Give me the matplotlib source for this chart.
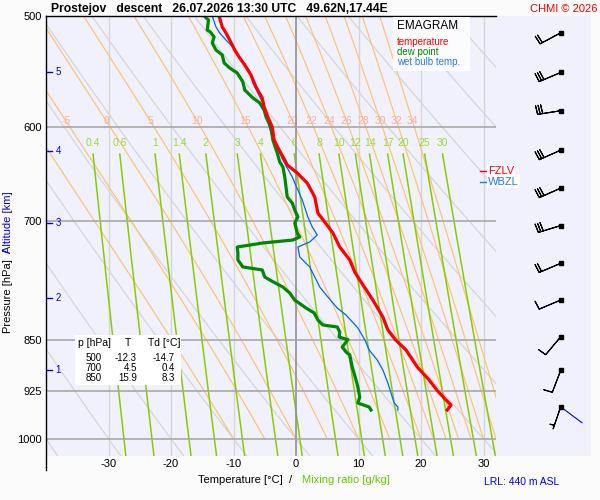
import numpy as np
import matplotlib
matplotlib.use('Agg')
import matplotlib.pyplot as plt
import matplotlib.transforms as mtransforms
from matplotlib.patches import Rectangle

plt.rcParams['font.family'] = ['Liberation Sans', 'DejaVu Sans']

# ---------------- data ----------------
temp_p = [500, 509.1, 514.1, 520.1, 528.7, 534.8, 541.8, 550.8, 561.7, 571.9, 580.4, 590.0,
          600, 612.7, 622.8, 633.1, 638.3, 646.8, 657.5, 672.7, 690.6, 700, 713.6, 730.2,
          745.9, 760.7, 770.8, 796.5, 819.0, 836.6, 850, 864.5, 888.9, 908.1, 925, 938.3,
          946.1, 953.9]
temp_t = [-12.3, -11.8, -11.2, -10.6, -9.8, -9.1, -8.2, -7.2, -6.4, -5.4, -5.1, -4.5,
          -3.8, -3.5, -2.7, -1.8, -1.4, 0.2, 1.8, 3.0, 3.5, 4.5, 5.9, 7.0,
          8.6, 9.4, 10.2, 12.3, 13.9, 14.7, 15.9, 17.6, 19.4, 21.3, 22.7, 24.0,
          24.8, 24.2]

dew_p = [500, 503.3, 511.6, 513.3, 517.5, 522.6, 528.7, 533.0, 540.0, 544.5, 549.0, 557.1,
         564.5, 571.9, 576.6, 583.3, 590.0, 600, 612.7, 625.9, 635.2, 640.4, 651.0, 672.7,
         679.4, 687.2, 695.1, 702.0, 713.6, 718.3, 721.9, 725.4, 730.2, 737.4, 745.9, 754.5,
         758.2, 767.0, 770.8, 779.7, 787.4, 796.5, 807.0, 813.6, 823.0, 829.8, 832.5, 839.4,
         846.3, 850, 860.3, 867.3, 871.6, 888.9, 908.1, 918.6, 933.7, 943.0, 949.2, 953.9]
dew_t = [-14.7, -14.0, -14.2, -13.7, -13.1, -13.4, -12.8, -11.8, -11.5, -10.6, -9.4, -8.5,
         -8.2, -6.9, -5.8, -5.1, -4.8, -4.0, -3.7, -3.0, -2.6, -2.1, -1.8, -1.4,
         -0.6, -0.2, 0.3, -0.2, 0.2, 0.6, -0.5, -5.3, -9.4, -9.3, -9.3, -8.5,
         -5.4, -5.0, -4.2, -2.1, -1.0, -0.2, 1.6, 2.9, 3.5, 4.3, 6.6, 7.0,
         6.9, 8.3, 7.4, 8.0, 8.6, 9.0, 9.6, 9.9, 10.2, 9.9, 11.7, 12.0]

wet_p = [500, 509.1, 514.1, 520.1, 526.1, 537.4, 546.3, 558.0, 571.0, 576.6, 583.3, 592.9,
         612.7, 625.9, 633.1, 651.0, 657.5, 665.0, 676.0, 695.1, 706.6, 716.0, 724.2, 730.2,
         742.3, 754.5, 767.0, 779.7, 792.6, 807.0, 816.3, 833.9, 850, 864.5, 878.8, 893.3,
         912.6, 933.7, 943.0, 949.2, 953.9]
wet_t = [-13.4, -12.8, -12.2, -11.2, -10.1, -8.8, -7.5, -6.9, -5.8, -5.3, -5.0, -4.6,
         -3.7, -2.6, -2.1, -0.6, -0.2, 0.3, 1.0, 1.9, 2.6, 3.4, 2.2, 0.3,
         0.6, 2.2, 3.0, 3.8, 5.1, 6.6, 8.0, 9.9, 11.0, 11.7, 13.0, 13.9,
         14.7, 15.4, 15.7, 16.3, 16.3]

# wind barbs (altitude km, pressure hPa, direction deg, speed kt)
wind_alt = [0.5, 1.0, 1.5, 2.0, 2.5, 3.0, 3.5, 4.0, 4.5, 5.0, 5.5]
wind_p = [949, 894, 846, 796.5, 750, 705, 663, 623, 584, 548.5, 514]
wind_dir = [199, 201, 220, 247, 247, 253, 246, 246, 261, 247, 242]
wind_kt = [5, 10, 10, 10, 20, 30, 30, 30, 30, 30, 20]
sfc_line_p = [949, 974]
sfc_line_x = [0.681, 0.905]

alt_km = [1, 2, 3, 4, 5]
alt_p = [894, 794.5, 702, 623.7, 548.5]

p_ticks = [500, 600, 700, 850, 925, 1000]
t_ticks = [-30, -20, -10, 0, 10, 20, 30]

dry_theta = list(range(-40, 101, 10))
moist_tw = [-10, -5, 0, 5, 10, 15, 20, 22, 24, 26, 28, 30, 32, 34]
mix_r = [0.4, 0.6, 1, 1.4, 2, 3, 4, 6, 8, 10, 12, 14, 17, 20, 25, 30]
mix_lbl = ['0.4', '0.6', '1', '1.4', '2', '3', '4', '6', '8', '10', '12', '14', '17', '20', '25', '30']

table_p = [500, 700, 850]
table_T = [-12.3, 4.5, 15.9]
table_Td = [-14.7, 0.4, 8.3]

fzlv_p = 645
wbzl_p = 656

P_TOP, P_BOT = 500, 1028.6
T_MIN, T_MAX = -40, 32

# ---------------- helpers ----------------
def sat_vp(tc):
    return 6.112 * np.exp(17.67 * tc / (tc + 243.5))

def moist_lapse(tk, p):
    Rd, cp, Lv, eps = 287.04, 1005.7, 2.501e6, 0.622
    e = sat_vp(tk - 273.15)
    rs = eps * e / (p - e)
    return (Rd * tk + Lv * rs) / (cp + Lv ** 2 * rs * eps / (Rd * tk ** 2)) / p

def moist_adiabat(tw, plev):
    T = tw + 273.15
    out = [T]
    for i in range(1, len(plev)):
        p0 = plev[i - 1]
        dp = plev[i] - p0
        k1 = moist_lapse(T, p0)
        k2 = moist_lapse(T + 0.5 * dp * k1, p0 + 0.5 * dp)
        k3 = moist_lapse(T + 0.5 * dp * k2, p0 + 0.5 * dp)
        k4 = moist_lapse(T + dp * k3, p0 + dp)
        T = T + dp * (k1 + 2 * k2 + 2 * k3 + k4) / 6
        out.append(T)
    return np.array(out) - 273.15

def mix_td(r, p):
    e = r * p / (622.0 + r)
    a = np.log(e / 6.112)
    return 243.5 * a / (17.67 - a)

# ---------------- figure ----------------
fig = plt.figure(figsize=(6, 5), dpi=100)
fig.patch.set_facecolor('#fbfbfb')
lav = '#f1f1fd'

ax = fig.add_axes([46 / 600, 44 / 500, 450 / 600, 440 / 500], zorder=2)
axb = fig.add_axes([496 / 600, 44 / 500, 95 / 600, 440 / 500], zorder=1)

for a in (ax, axb):
    a.set_facecolor(lav)
    a.set_yscale('log')
    a.set_ylim(P_BOT, P_TOP)
    for s in a.spines.values():
        s.set_visible(False)

ax.set_xlim(T_MIN, T_MAX)
axb.set_xlim(0, 1)
axb.set_xticks([])
axb.set_yticks([])
axb.minorticks_off()

ax.minorticks_off()
ax.set_yticks(p_ticks)
ax.set_yticklabels([str(p) for p in p_ticks], fontsize=8)
ax.set_xticks(t_ticks)
ax.set_xticklabels([str(t) for t in t_ticks], fontsize=8)
ax.tick_params(axis='both', length=0)
ax.tick_params(axis='y', pad=3)
ax.tick_params(axis='x', pad=2)

# isotherms and isobars
for t in t_ticks:
    if t == 0:
        ax.axvline(t, color='#909090', lw=1.2, zorder=3)
    else:
        ax.axvline(t, color='#d6d6d6', lw=1.0, zorder=1)
for p in p_ticks[1:]:
    ax.axhline(p, color='#a8a8a8', lw=1.2, zorder=3)

# dry adiabats
pp = np.geomspace(P_TOP, P_BOT, 200)
for th in dry_theta:
    ax.plot((th + 273.15) * (pp / 1000.0) ** 0.2857 - 273.15, pp,
            color='#d6d6d6', lw=0.9, zorder=1)

# moist adiabats
plev = np.linspace(1000, 500, 501)
for tw in moist_tw:
    tt = moist_adiabat(tw, plev)
    ax.plot(tt, plev, color='#ffc474', lw=0.9, zorder=1.5)
    tl = np.interp(594, plev[::-1], tt[::-1])
    if T_MIN + 1 < tl < T_MAX:
        ax.text(tl, 594, str(tw), color='#ffae98', fontsize=7.5, ha='center', va='center', zorder=2)

# mixing ratio lines
pm = np.geomspace(627, P_BOT, 100)
for r, lbl in zip(mix_r, mix_lbl):
    ax.plot(mix_td(r, pm), pm, color='#88cc00', lw=1.1, zorder=2)
    ax.text(mix_td(r, 627), 616, lbl, color='#99dd33', fontsize=7.5, ha='center', va='center')

# profiles
ax.plot(wet_t, wet_p, color='#0064ff', lw=0.9, zorder=6)
ax.plot(dew_t, dew_p, color='#008800', lw=2.3, zorder=7)
ax.plot(temp_t, temp_p, color='#ff0000', lw=2.3, zorder=8)

# frame lines
ax.plot([0, 0], [1, -14 / 440], transform=ax.transAxes, color='k', lw=1, clip_on=False, zorder=9)
ax.plot([0, 1], [1, 1], transform=ax.transAxes, color='k', lw=1, clip_on=False, zorder=9)

# altitude ticks
bt = mtransforms.blended_transform_factory(ax.transAxes, ax.transData)
for h, p in zip(alt_km, alt_p):
    ax.plot([0.003, 0.014], [p, p], transform=bt, color='blue', lw=1, zorder=9)
    ax.text(0.021, p, str(h), transform=bt, color='blue', fontsize=7, ha='left', va='center', zorder=9)

# legend box
ax.add_patch(Rectangle((0.771, 0.875), 0.171, 0.123, transform=ax.transAxes,
                       facecolor='white', edgecolor='none', alpha=0.85, zorder=9))
ax.text(0.78, 0.977, 'EMAGRAM', transform=ax.transAxes, fontsize=8.5, va='center', zorder=10)
ax.text(0.78, 0.941, 'temperature', transform=ax.transAxes, fontsize=7, color='#ff0000', va='center', zorder=10)
ax.text(0.78, 0.918, 'dew point', transform=ax.transAxes, fontsize=7, color='#008800', va='center', zorder=10)
ax.text(0.78, 0.895, 'wet bulb temp.', transform=ax.transAxes, fontsize=7, color='#2878ff', va='center', zorder=10)

# table box
ax.add_patch(Rectangle((0.0644, 0.1614), 0.2356, 0.1136, transform=ax.transAxes,
                       facecolor='white', edgecolor='none', zorder=9))
ax.text(0.0711, 0.2568, 'p [hPa]', transform=ax.transAxes, fontsize=7.5, va='center', zorder=10)
ax.text(0.1822, 0.2568, 'T', transform=ax.transAxes, fontsize=7.5, va='center', ha='center', zorder=10)
ax.text(0.2267, 0.2568, 'Td [°C]', transform=ax.transAxes, fontsize=7.5, va='center', zorder=10)
for i, (p, t, td) in enumerate(zip(table_p, table_T, table_Td)):
    yy = 0.2227 - i * 0.0227
    ax.text(0.1244, yy, f'{p}', transform=ax.transAxes, fontsize=7, ha='right', va='center', zorder=10)
    ax.text(0.2022, yy, f'{t:.1f}', transform=ax.transAxes, fontsize=7, ha='right', va='center', zorder=10)
    ax.text(0.2867, yy, f'{td:.1f}', transform=ax.transAxes, fontsize=7, ha='right', va='center', zorder=10)

# freezing levels
ax.plot([0.964, 0.978], [fzlv_p, fzlv_p], transform=bt, color='red', lw=1, clip_on=False, zorder=10)
ax.plot([0.964, 0.978], [wbzl_p, wbzl_p], transform=bt, color='#2878ff', lw=1, clip_on=False, zorder=10)
ax.text(0.982, fzlv_p, 'FZLV', transform=bt, color='red', fontsize=8, va='center', clip_on=False,
        zorder=10, bbox=dict(facecolor='white', edgecolor='none', pad=1))
ax.text(0.982, wbzl_p, 'WBZL', transform=bt, color='#2878ff', fontsize=8, va='center', clip_on=False,
        zorder=10, bbox=dict(facecolor='white', edgecolor='none', pad=1))

# wind barbs
wd = np.radians(wind_dir)
u = -np.array(wind_kt) * np.sin(wd)
v = -np.array(wind_kt) * np.cos(wd)
bx = np.full(len(wind_p), 0.681)
axb.barbs(bx, wind_p, u, v, length=5.8, color='k', linewidth=0.8,
          sizes=dict(spacing=0.11, height=0.38, width=0.06))
axb.plot(sfc_line_x, sfc_line_p, color='blue', lw=0.8, zorder=1)
axb.plot(bx, wind_p, 's', color='k', ms=2.5, zorder=3)

# texts
fig.text(51 / 600, 1 - 9 / 500, 'Prostejov   descent   26.07.2026 13:30 UTC   49.62N,17.44E',
         fontsize=8.7, fontweight='bold', va='center', ha='left')
fig.text(597 / 600, 1 - 9 / 500, 'CHMI © 2026', fontsize=8, color='red', va='center', ha='right')
fig.text(292 / 600, 1 - 480 / 500, 'Temperature [°C]  /', fontsize=8, va='center', ha='right')
fig.text(302 / 600, 1 - 480 / 500, 'Mixing ratio [g/kg]', fontsize=8, color='#66cc00', va='center', ha='left')
fig.text(8 / 600, 1 - 333 / 500, 'Pressure [hPa]  /', fontsize=8, rotation=90, va='bottom', ha='center')
fig.text(8 / 600, 1 - 253 / 500, 'Altitude [km]', fontsize=8, rotation=90, color='blue', va='bottom', ha='center')
fig.text(484 / 600, 1 - 482 / 500, 'LRL: 440 m ASL', fontsize=7.5, color='blue', va='center', ha='left')

fig.savefig('out.png', dpi=100, facecolor=fig.get_facecolor())
